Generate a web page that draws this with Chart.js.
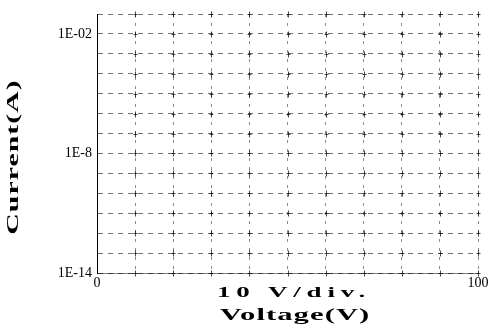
<!DOCTYPE html>
<html>
<head>
<meta charset="utf-8">
<script src="https://cdn.jsdelivr.net/npm/chart.js@4.4.1/dist/chart.umd.min.js"></script>
<style>
  html, body { margin: 0; padding: 0; background: #fff; }
  #wrap { width: 493px; height: 333px; }
</style>
</head>
<body>
<div id="wrap"><canvas id="ChartCanvas"></canvas></div>
<script>
// grid positions (volts) and which ones carry a label
var voltageTicks = [0, 10, 20, 30, 40, 50, 60, 70, 80, 90, 100];
var voltageLabels = ['0', '', '', '', '', '', '', '', '', '', '100'];

// one grid line per decade, 1E-14 .. 1E-1
var currentTicks = [1e-14, 1e-13, 1e-12, 1e-11, 1e-10, 1e-9, 1e-8, 1e-7, 1e-6, 1e-5, 1e-4, 1e-3, 1e-2, 1e-1];
var currentLabels = ['1E-14', '', '', '', '', '', '1E-8', '', '', '', '', '', '1E-02', ''];

// no curve was traced on the screen
var traceVoltage = [];
var traceCurrent = [];

var scaleLabel = '10 V/div.';
var xTitle = 'Voltage(V)';
var yTitle = 'Current(A)';

var chartContext = document.getElementById("ChartCanvas").getContext("2d");

// draws the stretched bold axis titles
var titlePlugin = {
    id: 'stretchedTitles',
    afterDraw: function (chart) {
        var ctx = chart.ctx;
        function drawStretched(text, x, y, size, stretch, spacing, angle) {
            ctx.save();
            ctx.translate(x, y);
            if (angle) ctx.rotate(angle);
            ctx.scale(stretch, 1);
            ctx.font = 'bold ' + size + 'px "Liberation Serif"';
            ctx.letterSpacing = spacing + 'px';
            ctx.fillStyle = '#000';
            ctx.textAlign = 'center';
            ctx.textBaseline = 'middle';
            ctx.fillText(text, 0, 0);
            ctx.restore();
        }
        drawStretched(scaleLabel, 294, 293, 15, 1.8, 3.2, 0);
        drawStretched(xTitle, 295, 316, 17, 1.8, 0.6, 0);
        drawStretched(yTitle, 14, 157, 17, 1.75, 0.6, -Math.PI / 2);
    }
};

// small crosses where the dotted grid lines meet
var crossPlugin = {
    id: 'gridCrosses',
    afterDraw: function (chart) {
        var ctx = chart.ctx;
        var xs = chart.scales.x, ys = chart.scales.y;
        ctx.save();
        ctx.strokeStyle = 'rgba(0,0,0,0.7)';
        ctx.lineWidth = 1;
        voltageTicks.forEach(function (v, i) {
            if (i === 0) return;
            var px = Math.round(xs.getPixelForValue(v)) + 0.5;
            currentTicks.forEach(function (c) {
                var py = Math.round(ys.getPixelForValue(c)) + 0.5;
                ctx.beginPath();
                ctx.moveTo(px - 2, py); ctx.lineTo(px + 2, py);
                ctx.moveTo(px, py - 3); ctx.lineTo(px, py + 3);
                ctx.stroke();
            });
        });
        ctx.restore();
    }
};

var config = {
    type: 'scatter',
    data: {
        datasets: [{
            data: traceVoltage.map(function (v, i) { return { x: v, y: traceCurrent[i] }; }),
            borderColor: '#000',
            showLine: true,
            pointRadius: 0
        }]
    },
    options: {
        responsive: true,
        maintainAspectRatio: false,
        animation: false,
        layout: { padding: { top: 14, right: 15, left: 0, bottom: 0 } },
        plugins: { legend: { display: false }, tooltip: { enabled: false } },
        scales: {
            x: {
                type: 'linear',
                min: 0,
                max: 100,
                afterBuildTicks: function (scale) {
                    scale.ticks = voltageTicks.map(function (v) { return { value: v }; });
                },
                afterFit: function (scale) { scale.height = 60; },
                grid: { color: 'rgba(0,0,0,0.45)', lineWidth: 1, drawTicks: false },
                border: { display: true, color: 'rgba(0,0,0,0.5)', width: 1, dash: [3, 6] },
                ticks: {
                    autoSkip: false,
                    maxRotation: 0,
                    padding: 2,
                    color: '#000',
                    font: { family: '"Liberation Serif"', size: 14 },
                    callback: function (value, index) { return voltageLabels[index]; }
                }
            },
            y: {
                type: 'logarithmic',
                min: 1e-14,
                max: 1e-1,
                afterBuildTicks: function (scale) {
                    scale.ticks = currentTicks.map(function (v) { return { value: v }; });
                },
                afterFit: function (scale) { scale.width = 97; },
                grid: { color: 'rgba(0,0,0,0.55)', lineWidth: 1, drawTicks: false },
                border: { display: true, color: '#000', width: 1, dash: [5, 5] },
                ticks: {
                    autoSkip: false,
                    padding: 5,
                    color: '#000',
                    font: { family: '"Liberation Serif"', size: 14 },
                    callback: function (value, index) { return currentLabels[index]; }
                }
            }
        }
    },
    plugins: [crossPlugin, titlePlugin]
};

var createdChart = new Chart(chartContext, config);
</script>
</body>
</html>
